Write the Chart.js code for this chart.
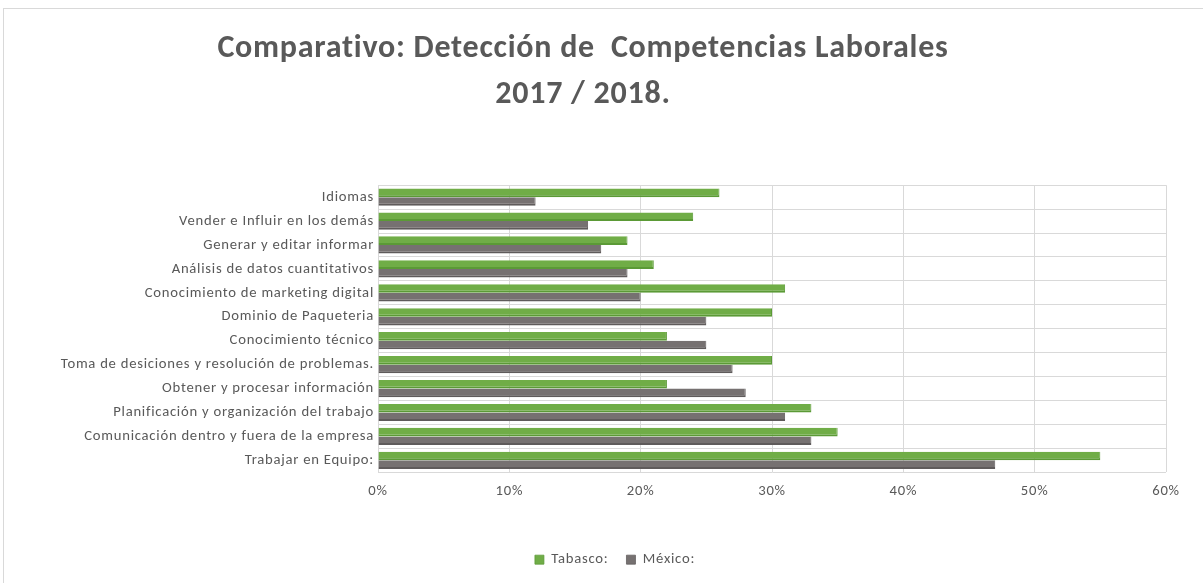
<!DOCTYPE html>
<html>
<head>
<meta charset="utf-8">
<script src="https://cdn.jsdelivr.net/npm/chart.js@4.4.1/dist/chart.umd.min.js"></script>
<style>
    html, body { margin: 0; padding: 0; background: #fff; }
    #frame {
        position: absolute; left: 3px; top: 8px;
        width: 1220px; height: 600px;
        border: 1px solid #d9d9d9;
    }
    #wrap { position: absolute; left: 0; top: 0; width: 1203px; height: 583px; }
</style>
</head>
<body>
<div id="frame"></div>
<div id="wrap"><canvas id="competencias_chart"></canvas></div>
<script>
const categories = [
    'Idiomas',
    'Vender e Influir en los demás',
    'Generar y editar informar',
    'Análisis de datos cuantitativos',
    'Conocimiento de marketing digital',
    'Dominio de Paqueteria',
    'Conocimiento técnico',
    'Toma de desiciones y resolución de problemas.',
    'Obtener y procesar información',
    'Planificación y organización del trabajo',
    'Comunicación dentro y fuera de la empresa',
    'Trabajar en Equipo:'
];
const tabasco = [26, 24, 19, 21, 31, 30, 22, 30, 22, 33, 35, 55];
const mexico = [12, 16, 17, 19, 20, 25, 25, 27, 28, 31, 33, 47];
const xTicks = [0, 10, 20, 30, 40, 50, 60];

const FONT = "Carlito, Lato, 'Open Sans', sans-serif";
const TEXT = '#595959';

// Excel spreads its text out a little; canvas can do the same
const spacingPlugin = {
    id: 'spacing',
    beforeLayout: chart => { chart.ctx.letterSpacing = '0.75px'; },
    afterLayout: chart => {
        // legend sits a bit right of centre in the original
        chart.legend.left += 32;
        chart.legend.right += 32;
    },
    beforeDraw: chart => { chart.ctx.letterSpacing = '0.75px'; }
};

const ctx = document.getElementById('competencias_chart').getContext('2d');

const config = {
    type: 'bar',
    data: {
        labels: categories,
        datasets: [{
            label: 'Tabasco:',
            data: tabasco,
            backgroundColor: '#70ad47',
            borderColor: '#5b9a36',
            borderWidth: { top: 0, bottom: 2, left: 0, right: 1 },
            borderSkipped: false
        }, {
            label: 'México:',
            data: mexico,
            backgroundColor: '#767171',
            borderColor: '#5f5b5b',
            borderWidth: { top: 0, bottom: 2, left: 0, right: 1 },
            borderSkipped: false
        }]
    },
    options: {
        indexAxis: 'y',
        responsive: true,
        maintainAspectRatio: false,
        animation: false,
        categoryPercentage: 0.72,
        barPercentage: 1.0,
        layout: { padding: { left: 0, right: 37, top: 0, bottom: 6 } },
        scales: {
            x: {
                min: 0,
                max: 60,
                afterBuildTicks: scale => { scale.ticks = xTicks.map(v => ({ value: v })); },
                afterFit: scale => { scale.height = 62; },
                ticks: {
                    color: TEXT,
                    padding: 10,
                    font: { family: FONT, size: 14.67 },
                    callback: v => v + '%'
                },
                grid: { color: '#d9d9d9', drawTicks: false },
                border: { display: false }
            },
            y: {
                afterFit: scale => { scale.width = 378; },
                ticks: {
                    color: TEXT,
                    padding: 4,
                    autoSkip: false,
                    font: { family: FONT, size: 14.67 }
                },
                grid: { color: '#d9d9d9', offset: true, drawTicks: false },
                border: { display: true, color: '#d9d9d9' }
            }
        },
        plugins: {
            title: {
                display: true,
                text: ['Comparativo: Detección de  Competencias Laborales', '2017 / 2018.'],
                color: TEXT,
                font: { family: FONT, size: 32, weight: 'bold', lineHeight: 1.44 },
                padding: { top: 26, bottom: 67 }
            },
            legend: {
                position: 'bottom',
                labels: {
                    color: TEXT,
                    boxWidth: 9,
                    boxHeight: 9,
                    padding: 18,
                    font: { family: FONT, size: 14.67 }
                }
            },
            tooltip: { enabled: false }
        }
    },
    plugins: [spacingPlugin]
};

const competencias_chart = new Chart(ctx, config);
</script>
</body>
</html>
